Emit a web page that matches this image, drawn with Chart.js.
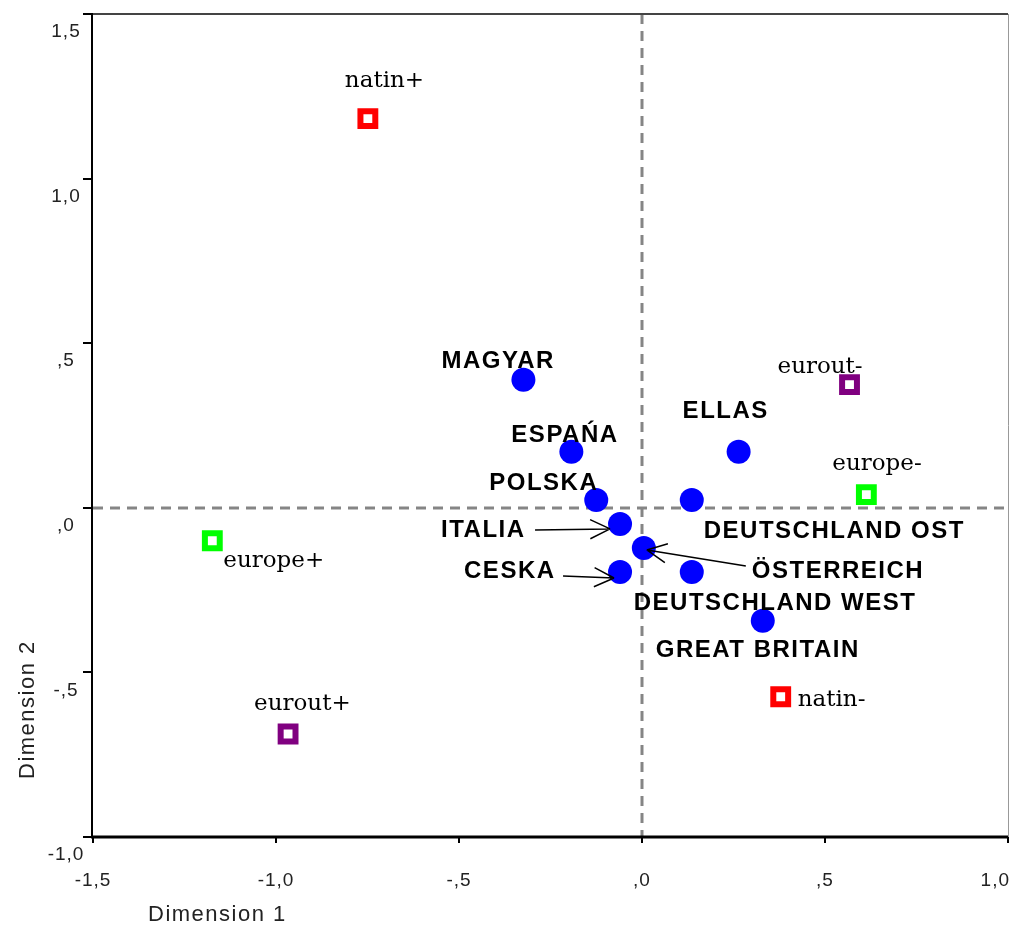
<!DOCTYPE html>
<html>
<head>
<meta charset="utf-8">
<script src="https://cdn.jsdelivr.net/npm/chart.js@4.4.1/dist/chart.umd.min.js"></script>
<style>
body { margin: 0; background: #fff; }
#wrap { width: 1011px; height: 927px; }
</style>
</head>
<body>
<div id="wrap"><canvas id="myChart" width="1011" height="927"></canvas></div>
<script>
// object points (countries)
const countries = ['MAGYAR', 'ESPAŃA', 'POLSKA', 'ITALIA', 'ÖSTERREICH', 'CESKA',
    'DEUTSCHLAND OST', 'DEUTSCHLAND WEST', 'ELLAS', 'GREAT BRITAIN'];
const countryX = [-0.324, -0.193, -0.125, -0.060, 0.005, -0.060, 0.136, 0.136, 0.264, 0.330];
const countryY = [0.389, 0.170, 0.024, -0.049, -0.122, -0.195, 0.024, -0.195, 0.170, -0.343];

// category points
const natinLabels = ['natin+', 'natin-'];
const natinX = [-0.749, 0.379];
const natinY = [1.182, -0.574];
const europeLabels = ['europe+', 'europe-'];
const europeX = [-1.174, 0.613];
const europeY = [-0.100, 0.040];
const euroutLabels = ['eurout+', 'eurout-'];
const euroutX = [-0.967, 0.567];
const euroutY = [-0.687, 0.374];

// axes
const xTicks = [-1.5, -1.0, -0.5, 0.0, 0.5, 1.0];
const xTickLabels = ['-1,5', '-1,0', '-,5', ',0', ',5', '1,0'];
const yTicks = [-1.0, -0.5, 0.0, 0.5, 1.0, 1.5];
const yTickLabels = ['-1,0', '-,5', ',0', ',5', '1,0', '1,5'];
const xTitle = 'Dimension 1';
const yTitle = 'Dimension 2';

// label placement, pixels relative to the point
const labelPos = {
    'MAGYAR': [-82, -12],
    'ESPAŃA': [-60, -10],
    'POLSKA': [-107, -10],
    'ITALIA': [-179, 13],
    'ÖSTERREICH': [108, 30],
    'CESKA': [-156, 6],
    'DEUTSCHLAND OST': [12, 38],
    'DEUTSCHLAND WEST': [-58, 38],
    'ELLAS': [-56, -34],
    'GREAT BRITAIN': [-107, 36],
    'natin+': [-23, -32],
    'natin-': [17, 9],
    'europe+': [11, 26],
    'europe-': [-34, -25],
    'eurout+': [-34, -24],
    'eurout-': [-72, -12]
};
const arrows = {
    'ITALIA': [-85, 6, -10, 5],
    'CESKA': [-57, 4, -6, 6],
    'ÖSTERREICH': [102, 18, 3, 2]
};

function pts(xs, ys) {
    return xs.map((x, i) => ({ x: x, y: ys[i] }));
}

const framePlugin = {
    id: 'frame',
    beforeDatasetsDraw(chart) {
        const c = chart.ctx;
        const a = chart.chartArea;
        const xs = chart.scales.x, ys = chart.scales.y;
        c.save();
        // dashed reference lines
        c.strokeStyle = '#858585';
        c.lineWidth = 3;
        c.setLineDash([10, 7]);
        const x0 = Math.round(xs.getPixelForValue(0));
        const y0 = Math.round(ys.getPixelForValue(0));
        c.beginPath();
        c.moveTo(x0, a.top); c.lineTo(x0, a.bottom);
        c.moveTo(a.left, y0); c.lineTo(a.right, y0);
        c.stroke();
        c.setLineDash([]);
        // frame
        c.strokeStyle = '#444';
        c.lineWidth = 2;
        c.beginPath();
        c.moveTo(a.left, a.top); c.lineTo(a.right, a.top);
        c.stroke();
        c.strokeStyle = '#999';
        c.lineWidth = 1;
        c.beginPath();
        c.moveTo(a.right + 0.5, a.top); c.lineTo(a.right + 0.5, a.bottom);
        c.stroke();
        c.strokeStyle = '#000';
        c.lineWidth = 2;
        c.beginPath();
        c.moveTo(a.left - 1, a.top); c.lineTo(a.left - 1, a.bottom);
        c.stroke();
        c.lineWidth = 3;
        c.beginPath();
        c.moveTo(a.left - 2, a.bottom); c.lineTo(a.right, a.bottom);
        c.stroke();
        // ticks
        c.lineWidth = 2;
        c.beginPath();
        yTicks.forEach(v => {
            const p = Math.round(ys.getPixelForValue(v));
            c.moveTo(a.left - 10, p); c.lineTo(a.left, p);
        });
        xTicks.forEach(v => {
            const p = Math.round(xs.getPixelForValue(v));
            c.moveTo(p, a.bottom); c.lineTo(p, a.bottom + 6);
        });
        c.stroke();
        c.restore();
    },
    afterDatasetsDraw(chart) {
        const c = chart.ctx;
        const xs = chart.scales.x, ys = chart.scales.y;
        c.save();
        // tick labels
        c.fillStyle = '#222';
        c.font = '19px "Liberation Sans", Arial, sans-serif';
        c.letterSpacing = '1px';
        c.textBaseline = 'middle';
        xTicks.forEach((v, i) => {
            const p = xs.getPixelForValue(v);
            const w = c.measureText(xTickLabels[i]).width;
            // keep the last label inside the canvas
            if (p + w / 2 > chart.width - 1) {
                c.textAlign = 'right';
                c.fillText(xTickLabels[i], chart.width - 1, 881);
            } else {
                c.textAlign = 'center';
                c.fillText(xTickLabels[i], p, 881);
            }
        });
        c.textAlign = 'center';
        yTicks.forEach((v, i) => {
            c.fillText(yTickLabels[i], 66, ys.getPixelForValue(v) + 18);
        });
        // axis titles
        c.font = '22px "Liberation Sans", Arial, sans-serif';
        c.letterSpacing = '1.5px';
        c.textAlign = 'left';
        c.textBaseline = 'alphabetic';
        c.fillText(xTitle, 148, 921);
        c.save();
        c.translate(34, 779);
        c.rotate(-Math.PI / 2);
        c.fillText(yTitle, 0, 0);
        c.restore();

        // point labels
        c.fillStyle = '#000';
        chart.data.datasets.forEach((ds, di) => {
            const meta = chart.getDatasetMeta(di);
            c.font = ds.isCountry
                ? 'bold 24px "Liberation Sans", Arial, sans-serif'
                : '23px "DejaVu Serif", serif';
            c.letterSpacing = ds.isCountry ? '1.5px' : '0px';
            meta.data.forEach((el, i) => {
                const name = ds.names[i];
                const off = labelPos[name] || [8, -8];
                c.fillText(name, el.x + off[0], el.y + off[1]);
                const ar = arrows[name];
                if (ar) {
                    const sx = el.x + ar[0], sy = el.y + ar[1];
                    const tx = el.x + ar[2], ty = el.y + ar[3];
                    const ang = Math.atan2(ty - sy, tx - sx);
                    c.strokeStyle = '#000';
                    c.lineWidth = 1.5;
                    c.beginPath();
                    c.moveTo(sx, sy); c.lineTo(tx, ty);
                    [0.45, -0.45].forEach(d => {
                        c.moveTo(tx, ty);
                        c.lineTo(tx - 22 * Math.cos(ang + d), ty - 22 * Math.sin(ang + d));
                    });
                    c.stroke();
                }
            });
        });
        c.restore();
    }
};

const squareStyle = color => ({
    pointStyle: 'rect',
    pointRadius: 10.5,
    pointBorderWidth: 6,
    pointBorderColor: color,
    pointBackgroundColor: '#fff'
});

const ctx = document.getElementById('myChart').getContext('2d');
new Chart(ctx, {
    type: 'scatter',
    data: {
        datasets: [
            Object.assign({ label: 'natin', names: natinLabels, data: pts(natinX, natinY) }, squareStyle('#ff0000')),
            Object.assign({ label: 'europe', names: europeLabels, data: pts(europeX, europeY) }, squareStyle('#00ff00')),
            Object.assign({ label: 'eurout', names: euroutLabels, data: pts(euroutX, euroutY) }, squareStyle('#800080')),
            {
                label: 'countries',
                names: countries,
                isCountry: true,
                data: pts(countryX, countryY),
                pointStyle: 'circle',
                pointRadius: 12,
                pointBorderWidth: 0,
                pointBackgroundColor: '#0000ff'
            }
        ]
    },
    options: {
        responsive: false,
        animation: false,
        layout: { autoPadding: false, padding: { left: 93, right: 3, top: 14, bottom: 90 } },
        plugins: { legend: { display: false }, tooltip: { enabled: false } },
        scales: {
            x: { type: 'linear', min: -1.5, max: 1.0, display: false },
            y: { type: 'linear', min: -1.0, max: 1.5, display: false }
        }
    },
    plugins: [framePlugin]
});
</script>
</body>
</html>
